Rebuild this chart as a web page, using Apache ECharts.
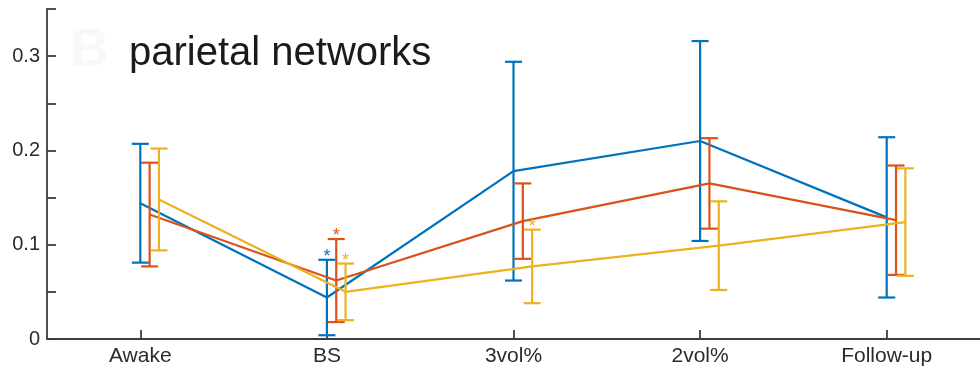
<!DOCTYPE html>
<html>
<head>
<meta charset="utf-8">
<script src="https://cdn.jsdelivr.net/npm/echarts@6/dist/echarts.min.js"></script>
<style>
  html, body { margin: 0; padding: 0; background: #ffffff; }
  #chart { width: 980px; height: 374px; }
</style>
</head>
<body>
<div id="chart"></div>
<script>
// Conditions along the x axis
const categories = ['Awake', 'BS', '3vol%', '2vol%', 'Follow-up'];

// Mean value and error (half-length of the bar) per condition
const blueMean   = [0.144, 0.044, 0.178, 0.210, 0.129];
const blueErr    = [0.063, 0.040, 0.116, 0.106, 0.085];
const orangeMean = [0.132, 0.062, 0.125, 0.165, 0.126];
const orangeErr  = [0.055, 0.044, 0.040, 0.048, 0.058];
const yellowMean = [0.148, 0.050, 0.077, 0.099, 0.124];
const yellowErr  = [0.054, 0.030, 0.039, 0.047, 0.057];

// Significance markers (1 = asterisk above the error bar)
const blueStar   = [0, 1, 0, 0, 0];
const orangeStar = [0, 1, 0, 0, 0];
const yellowStar = [0, 1, 1, 0, 0];

// Y axis tick labels
const yTickLabels = ['0', '0.1', '0.2', '0.3'];

const AXIS_COLOR = '#3d3d3d';
const FONT = '"Liberation Sans", Arial, Helvetica, sans-serif';

const groups = [
  { mean: blueMean,   err: blueErr,   star: blueStar,   color: '#0072BD', shift: 0.00 },
  { mean: orangeMean, err: orangeErr, star: orangeStar, color: '#D95319', shift: 0.05 },
  { mean: yellowMean, err: yellowErr, star: yellowStar, color: '#EDB120', shift: 0.10 }
];

const series = [];
groups.forEach((g, k) => {
  const lineData = g.mean.map((m, i) => [i + g.shift, m]);
  const barData = g.mean.map((m, i) => [i + g.shift, m - g.err[i], m + g.err[i], g.star[i]]);

  series.push({
    type: 'custom',
    xAxisIndex: 1,
    yAxisIndex: 0,
    z: 2 + k * 2,
    encode: { x: 0, y: [1, 2] },
    data: barData,
    renderItem: function (params, api) {
      const x = api.value(0);
      const lo = api.coord([x, api.value(1)]);
      const hi = api.coord([x, api.value(2)]);
      const hw = 8.5;
      const st = { stroke: g.color, lineWidth: 2.2, fill: null };
      const children = [
        { type: 'line', shape: { x1: lo[0], y1: lo[1], x2: hi[0], y2: hi[1] }, style: st },
        { type: 'line', shape: { x1: hi[0] - hw, y1: hi[1], x2: hi[0] + hw, y2: hi[1] }, style: st },
        { type: 'line', shape: { x1: lo[0] - hw, y1: lo[1], x2: lo[0] + hw, y2: lo[1] }, style: st }
      ];
      if (api.value(3)) {
        children.push({
          type: 'text',
          style: {
            text: '*', x: hi[0], y: hi[1] - 3,
            fill: g.color, font: '18px ' + FONT,
            align: 'center', verticalAlign: 'middle'
          }
        });
      }
      return { type: 'group', children: children };
    }
  });

  series.push({
    type: 'line',
    xAxisIndex: 1,
    yAxisIndex: 0,
    z: 3 + k * 2,
    data: lineData,
    symbol: 'none',
    silent: true,
    lineStyle: { color: g.color, width: 2.2 }
  });
});

const chart = echarts.init(document.getElementById('chart'), null, { renderer: 'canvas' });
chart.setOption({
  backgroundColor: '#ffffff',
  animation: false,
  grid: { left: 47, top: 9, bottom: 35, right: -7, containLabel: false },
  graphic: [
    {
      type: 'text', left: 70, top: 24, z: 0,
      style: { text: 'B', font: 'bold 54px ' + FONT, fill: '#f8f8f8' }
    },
    {
      type: 'text', left: 129, top: 34, z: 10,
      style: { text: 'parietal networks', font: '40px ' + FONT, fill: '#1a1a1a' }
    }
  ],
  xAxis: [
    {
      type: 'category',
      data: categories,
      boundaryGap: true,
      axisLine: { show: true, onZero: false, lineStyle: { color: AXIS_COLOR, width: 1.8 } },
      axisTick: { show: true, inside: true, alignWithLabel: true, length: 9, lineStyle: { color: AXIS_COLOR, width: 1.8 } },
      axisLabel: { fontSize: 21, fontFamily: FONT, color: '#2b2b2b', margin: 7 },
      splitLine: { show: false }
    },
    {
      type: 'value',
      min: -0.5,
      max: 4.5,
      show: false
    }
  ],
  yAxis: {
    type: 'value',
    min: 0,
    max: 0.35,
    interval: 0.05,
    axisLine: { show: true, onZero: false, lineStyle: { color: AXIS_COLOR, width: 1.8 } },
    axisTick: { show: true, inside: true, length: 9, lineStyle: { color: AXIS_COLOR, width: 1.8 } },
    axisLabel: {
      fontSize: 20, fontFamily: FONT, color: '#2b2b2b', margin: 7,
      formatter: function (v) {
        const idx = Math.round(v * 100);
        return idx % 10 === 0 ? (yTickLabels[idx / 10] || '') : '';
      }
    },
    splitLine: { show: false }
  },
  series: series
});
</script>
</body>
</html>
